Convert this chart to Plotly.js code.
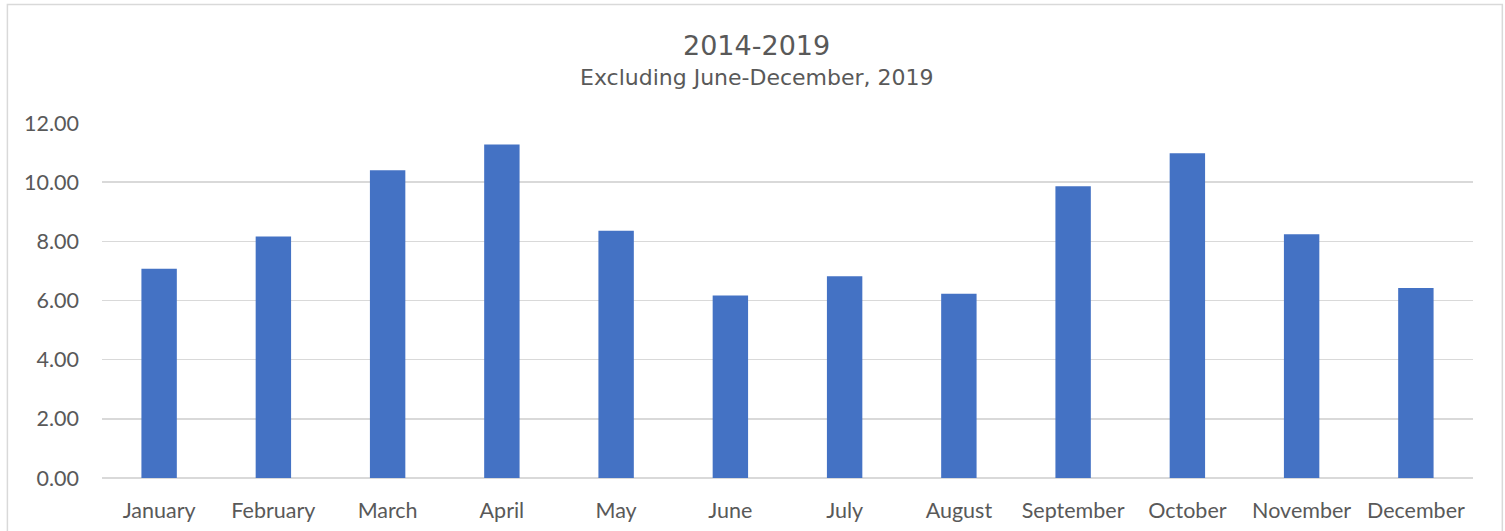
<!DOCTYPE html>
<html>
<head>
<meta charset="utf-8">
<script src="https://cdn.plot.ly/plotly-3.0.1.min.js"></script>
<style>html,body{margin:0;padding:0;background:#fff;}#chart{width:1505px;height:531px;}</style>
</head>
<body>
<div id="chart"></div>
<script>
const months = ["January","February","March","April","May","June","July","August","September","October","November","December"];
const values = [7.07, 8.16, 10.40, 11.27, 8.36, 6.17, 6.82, 6.23, 9.86, 10.98, 8.24, 6.42];
const yTicks = [0, 2, 4, 6, 8, 10, 12];
const titleText = "2014-2019";
const subtitleText = "Excluding June-December, 2019";

const textColor = "#595959";
const gridColor = "#d9d9d9";

const trace = {
  type: "bar",
  x: months,
  y: values,
  marker: {color: "#4472C4", line: {width: 0}},
  hoverinfo: "x+y"
};

const layout = {
  width: 1505,
  height: 531,
  margin: {l: 102, r: 32, t: 123, b: 53, pad: 0},
  paper_bgcolor: "#ffffff",
  plot_bgcolor: "#ffffff",
  bargap: 0.69,
  showlegend: false,
  font: {family: "Lato, 'Open Sans', sans-serif", color: textColor},
  xaxis: {
    type: "category",
    showgrid: false,
    zeroline: false,
    showline: false,
    ticks: "",
    tickfont: {size: 21.5, color: textColor, family: "Lato, sans-serif"},
    ticklabelstandoff: 17
  },
  yaxis: {
    range: [0, 12],
    tickvals: yTicks,
    tickformat: ".2f",
    showgrid: true,
    gridcolor: gridColor,
    gridwidth: 1.5,
    zeroline: true,
    zerolinecolor: gridColor,
    zerolinewidth: 1.5,
    showline: false,
    ticks: "",
    ticklabelstandoff: 22,
    tickfont: {size: 21.5, color: textColor, family: "Lato, sans-serif"}
  },
  annotations: [
    {text: titleText, xref: "paper", yref: "paper", x: 0.4775, y: 1.219, xanchor: "center", yanchor: "middle",
     showarrow: false, font: {size: 27, color: textColor, family: "'DejaVu Sans', sans-serif"}},
    {text: subtitleText, xref: "paper", yref: "paper", x: 0.4775, y: 1.127, xanchor: "center", yanchor: "middle",
     showarrow: false, font: {size: 22, color: textColor, family: "'DejaVu Sans', sans-serif"}}
  ],
  shapes: [
    {type: "rect", xref: "paper", yref: "paper", x0: -0.0690, x1: 1.0214, y0: -0.25, y1: 1.334,
     line: {color: gridColor, width: 1.5}, fillcolor: "rgba(0,0,0,0)", layer: "below"}
  ]
};

Plotly.newPlot("chart", [trace], layout, {displayModeBar: false, staticPlot: true});
</script>
</body>
</html>
